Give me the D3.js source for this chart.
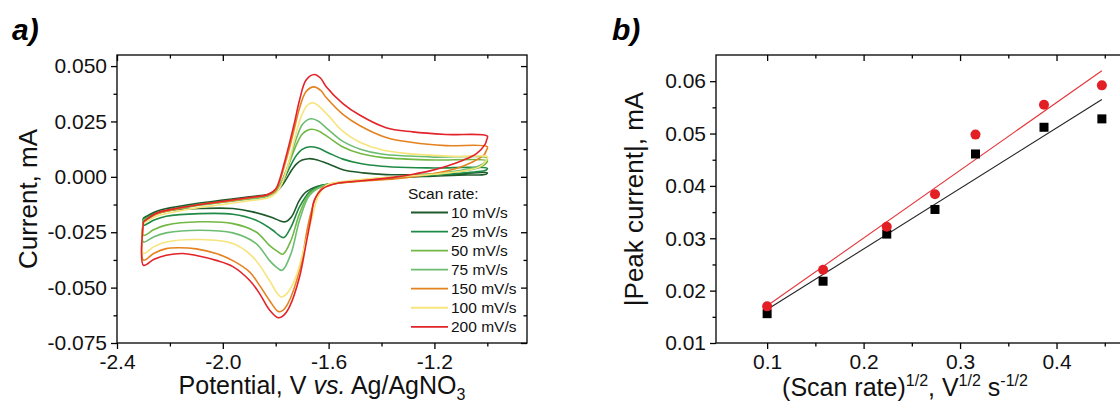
<!DOCTYPE html>
<html>
<head>
<meta charset="utf-8">
<script src="https://cdn.jsdelivr.net/npm/d3@7"></script>
<style>
  body { margin: 0; background: #fff; }
  svg { display: block; font-family: "Liberation Sans", Arial, Helvetica, sans-serif; }
</style>
</head>
<body>
<svg id="chart" width="1120" height="405"></svg>
<script>
// ---- panel a : cyclic voltammograms, [potential V, current mA]
// each loop: forward branch (left -> right) then return branch (right -> left)
const cv10 = [
  [-2.30,-0.0185],[-2.25,-0.0155],[-2.20,-0.0140],[-2.10,-0.0120],[-2.00,-0.0105],[-1.90,-0.0090],
  [-1.83,-0.0080],[-1.80,-0.0068],[-1.78,-0.0045],[-1.76,-0.0010],[-1.74,0.0030],[-1.72,0.0060],
  [-1.70,0.0076],[-1.675,0.0082],[-1.65,0.0078],[-1.60,0.0058],[-1.546,0.0032],[-1.47,0.0018],
  [-1.383,0.0010],[-1.25,0.0010],[-1.10,0.0014],[-1.00,0.0018],
  [-1.005,0.0012],[-1.08,0.0008],[-1.206,0.0003],[-1.332,-0.0003],[-1.458,-0.0015],[-1.584,-0.0030],
  [-1.647,-0.0045],[-1.685,-0.0068],[-1.710,-0.0105],[-1.740,-0.0180],[-1.764,-0.0203],[-1.785,-0.0198],
  [-1.811,-0.0185],[-1.887,-0.0158],[-1.962,-0.0143],[-2.088,-0.0143],[-2.214,-0.0154],[-2.26,-0.0170],
  [-2.30,-0.0196],[-2.30,-0.0185]
];
const cv25 = [
  [-2.30,-0.0190],[-2.25,-0.0162],[-2.20,-0.0148],[-2.10,-0.0125],[-2.00,-0.0110],[-1.90,-0.0095],
  [-1.83,-0.0083],[-1.80,-0.0065],[-1.78,-0.0035],[-1.76,0.0010],[-1.74,0.0060],[-1.72,0.0100],
  [-1.70,0.0124],[-1.67,0.0136],[-1.64,0.0130],[-1.60,0.0108],[-1.546,0.0080],[-1.48,0.0060],
  [-1.40,0.0048],[-1.30,0.0042],[-1.20,0.0040],[-1.00,0.0038],
  [-1.005,0.0030],[-1.05,0.0022],[-1.15,0.0012],[-1.30,0.0000],[-1.45,-0.0015],[-1.559,-0.0027],
  [-1.635,-0.0041],[-1.672,-0.0068],[-1.710,-0.0136],[-1.742,-0.0226],[-1.769,-0.0274],[-1.790,-0.0262],
  [-1.811,-0.0241],[-1.874,-0.0196],[-1.962,-0.0169],[-2.088,-0.0166],[-2.214,-0.0178],[-2.26,-0.0195],
  [-2.30,-0.0218],[-2.30,-0.0190]
];
const cv50 = [
  [-2.30,-0.0195],[-2.25,-0.0165],[-2.20,-0.0150],[-2.10,-0.0128],[-2.00,-0.0113],[-1.90,-0.0098],
  [-1.83,-0.0085],[-1.80,-0.0062],[-1.78,-0.0030],[-1.76,0.0025],[-1.74,0.0090],[-1.72,0.0150],
  [-1.70,0.0192],[-1.68,0.0210],[-1.664,0.0215],[-1.64,0.0208],[-1.60,0.0178],[-1.546,0.0135],
  [-1.48,0.0105],[-1.40,0.0088],[-1.30,0.0080],[-1.20,0.0076],[-1.00,0.0072],
  [-1.005,0.0060],[-1.03,0.0042],[-1.10,0.0025],[-1.20,0.0012],[-1.35,-0.0002],[-1.50,-0.0018],
  [-1.58,-0.0030],[-1.622,-0.0041],[-1.672,-0.0075],[-1.710,-0.0166],[-1.742,-0.0286],[-1.773,-0.0349],
  [-1.795,-0.0335],[-1.824,-0.0309],[-1.874,-0.0249],[-1.962,-0.0211],[-2.088,-0.0203],[-2.214,-0.0218],
  [-2.26,-0.0238],[-2.30,-0.0264],[-2.30,-0.0195]
];
const cv75 = [
  [-2.30,-0.0200],[-2.25,-0.0168],[-2.20,-0.0152],[-2.10,-0.0130],[-2.00,-0.0115],[-1.90,-0.0100],
  [-1.83,-0.0088],[-1.80,-0.0064],[-1.78,-0.0028],[-1.76,0.0030],[-1.74,0.0105],[-1.72,0.0180],
  [-1.70,0.0235],[-1.68,0.0257],[-1.664,0.0262],[-1.64,0.0252],[-1.60,0.0212],[-1.546,0.0160],
  [-1.48,0.0125],[-1.40,0.0103],[-1.30,0.0094],[-1.20,0.0089],[-1.00,0.0085],
  [-1.005,0.0070],[-1.03,0.0050],[-1.10,0.0030],[-1.20,0.0015],[-1.35,0.0000],[-1.50,-0.0018],
  [-1.58,-0.0030],[-1.622,-0.0041],[-1.672,-0.0083],[-1.710,-0.0196],[-1.742,-0.0346],[-1.776,-0.0422],
  [-1.800,-0.0405],[-1.824,-0.0377],[-1.874,-0.0301],[-1.962,-0.0253],[-2.088,-0.0241],[-2.214,-0.0253],
  [-2.26,-0.0270],[-2.30,-0.0294],[-2.30,-0.0200]
];
const cv100 = [
  [-2.30,-0.0210],[-2.25,-0.0178],[-2.20,-0.0162],[-2.10,-0.0140],[-2.00,-0.0125],[-1.90,-0.0108],
  [-1.83,-0.0095],[-1.80,-0.0075],[-1.78,-0.0040],[-1.76,0.0025],[-1.74,0.0115],[-1.72,0.0210],
  [-1.70,0.0283],[-1.68,0.0323],[-1.66,0.0335],[-1.64,0.0322],[-1.60,0.0275],[-1.546,0.0205],
  [-1.48,0.0155],[-1.40,0.0122],[-1.30,0.0105],[-1.20,0.0097],[-1.10,0.0092],[-1.00,0.0090],
  [-1.005,0.0072],[-1.03,0.0045],[-1.10,0.0025],[-1.20,0.0012],[-1.35,0.0000],[-1.50,-0.0015],
  [-1.60,-0.0032],[-1.62,-0.0050],[-1.64,-0.0090],[-1.66,-0.0170],[-1.68,-0.0265],[-1.70,-0.0355],
  [-1.72,-0.0440],[-1.742,-0.0500],[-1.765,-0.0535],[-1.780,-0.0542],[-1.800,-0.0515],[-1.824,-0.0467],
  [-1.887,-0.0361],[-1.962,-0.0301],[-2.088,-0.0283],[-2.214,-0.0294],[-2.26,-0.0315],[-2.30,-0.0346],
  [-2.30,-0.0210]
];
const cv150 = [
  [-2.30,-0.0205],[-2.25,-0.0168],[-2.20,-0.0152],[-2.10,-0.0128],[-2.00,-0.0113],[-1.90,-0.0096],
  [-1.83,-0.0082],[-1.80,-0.0060],[-1.786,-0.0025],[-1.768,0.0045],[-1.748,0.0130],[-1.728,0.0225],
  [-1.710,0.0310],[-1.685,0.0385],[-1.656,0.0406],[-1.630,0.0390],[-1.609,0.0358],[-1.546,0.0282],
  [-1.483,0.0232],[-1.383,0.0178],[-1.282,0.0155],[-1.156,0.0141],[-1.00,0.0136],
  [-1.004,0.0118],[-1.012,0.0100],[-1.054,0.0068],[-1.117,0.0038],[-1.217,0.0012],[-1.343,-0.0008],
  [-1.50,-0.0022],[-1.58,-0.0032],[-1.622,-0.0048],[-1.647,-0.0090],[-1.666,-0.0160],[-1.679,-0.0226],
  [-1.710,-0.0422],[-1.754,-0.0572],[-1.776,-0.0605],[-1.790,-0.0608],[-1.824,-0.0557],[-1.861,-0.0490],
  [-1.899,-0.0429],[-1.962,-0.0378],[-2.025,-0.0346],[-2.10,-0.0325],[-2.17,-0.0320],[-2.214,-0.0324],
  [-2.26,-0.0345],[-2.30,-0.0376],[-2.30,-0.0205]
];
const cv200 = [
  [-2.30,-0.0203],[-2.25,-0.0163],[-2.20,-0.0148],[-2.10,-0.0127],[-2.00,-0.0110],[-1.90,-0.0093],
  [-1.83,-0.0080],[-1.80,-0.0055],[-1.786,-0.0015],[-1.768,0.0060],[-1.748,0.0152],[-1.728,0.0250],
  [-1.710,0.0346],[-1.685,0.0437],[-1.654,0.0462],[-1.630,0.0445],[-1.609,0.0407],[-1.546,0.0331],
  [-1.483,0.0279],[-1.383,0.0222],[-1.282,0.0203],[-1.156,0.0191],[-1.00,0.0184],
  [-1.003,0.0165],[-1.008,0.0148],[-1.041,0.0105],[-1.091,0.0075],[-1.154,0.0048],[-1.217,0.0027],
  [-1.280,0.0012],[-1.343,0.0000],[-1.406,-0.0009],[-1.50,-0.0020],[-1.559,-0.0027],[-1.622,-0.0053],
  [-1.654,-0.0105],[-1.666,-0.0181],[-1.685,-0.0301],[-1.710,-0.0452],[-1.748,-0.0587],[-1.770,-0.0625],
  [-1.790,-0.0636],[-1.824,-0.0600],[-1.861,-0.0527],[-1.899,-0.0467],[-1.962,-0.0405],[-2.025,-0.0377],
  [-2.10,-0.0355],[-2.151,-0.0346],[-2.214,-0.0354],[-2.26,-0.0372],[-2.30,-0.0399],[-2.30,-0.0203]
];

const scanRates = ['10 mV/s', '25 mV/s', '50 mV/s', '75 mV/s', '150 mV/s', '100 mV/s', '200 mV/s'];
const cvCurves  = [cv10, cv25, cv50, cv75, cv150, cv100, cv200];
const cvColors  = ['#1e5a2c', '#1f8a45', '#72b844', '#6cbd72', '#e5821f', '#f6e47c', '#e2232a'];

const xTicksA = [-2.4, -2.0, -1.6, -1.2];
const xTickLabelsA = ['-2.4', '-2.0', '-1.6', '-1.2'];
const xMinorA = [-2.2, -1.8, -1.4, -1.0];
const yTicksA = [-0.075, -0.05, -0.025, 0, 0.025, 0.05];
const yTickLabelsA = ['-0.075', '-0.050', '-0.025', '0.000', '0.025', '0.050'];
const yMinorA = [-0.0625, -0.0375, -0.0125, 0.0125, 0.0375];

// ---- panel b : peak current vs sqrt(scan rate)
const sqrtRate  = [0.100, 0.158, 0.224, 0.274, 0.316, 0.387, 0.447];
const peakRed   = [0.0170, 0.0240, 0.0322, 0.0384, 0.0498, 0.0555, 0.0592];
const peakBlack = [0.0156, 0.0218, 0.0308, 0.0355, 0.0461, 0.0512, 0.0528];
const fitRed    = [[0.100, 0.0171], [0.447, 0.0620]];
const fitBlack  = [[0.100, 0.0164], [0.447, 0.0565]];

const xTicksB = [0.1, 0.2, 0.3, 0.4];
const xTickLabelsB = ['0.1', '0.2', '0.3', '0.4'];
const xMinorB = [0.15, 0.25, 0.35, 0.45];
const yTicksB = [0.01, 0.02, 0.03, 0.04, 0.05, 0.06];
const yTickLabelsB = ['0.01', '0.02', '0.03', '0.04', '0.05', '0.06'];
const yMinorB = [0.015, 0.025, 0.035, 0.045, 0.055];

const svg = d3.select('#chart');
const tickFont = 21, titleFont = 25;

function drawFrame(box, x, y, xt, xl, xm, yt, yl, ym) {
  let g = svg.append('g');
  g.append('rect')
    .attr('x', box.left).attr('y', box.top)
    .attr('width', box.right - box.left).attr('height', box.bottom - box.top)
    .attr('fill', 'none').attr('stroke', '#000').attr('stroke-width', 1.3);

  const axes = [
    [d3.axisBottom(x).tickValues(xt).tickSize(6).tickPadding(5).tickFormat((d, i) => xl[i]), `translate(0,${box.bottom})`],
    [d3.axisBottom(x).tickValues(xm).tickSize(3.5).tickFormat(''), `translate(0,${box.bottom})`],
    [d3.axisLeft(y).tickValues(yt).tickSize(6).tickPadding(4).tickFormat((d, i) => yl[i]), `translate(${box.left},0)`],
    [d3.axisLeft(y).tickValues(ym).tickSize(3.5).tickFormat(''), `translate(${box.left},0)`],
    // mirrored ticks point inward
    [d3.axisBottom(x).tickValues(xt).tickSize(6).tickFormat(''), `translate(0,${box.top})`],
    [d3.axisBottom(x).tickValues(xm).tickSize(3.5).tickFormat(''), `translate(0,${box.top})`],
    [d3.axisLeft(y).tickValues(yt).tickSize(6).tickFormat(''), `translate(${box.right},0)`],
    [d3.axisLeft(y).tickValues(ym).tickSize(3.5).tickFormat(''), `translate(${box.right},0)`]
  ];
  axes.forEach(([ax, tr], i) => {
    let a = g.append('g').attr('transform', tr).call(ax);
    a.select('.domain').remove();
    a.selectAll('line').attr('stroke', '#000').attr('stroke-width', 1.3);
    a.selectAll('text').attr('fill', '#111').style('font-size', tickFont + 'px')
      .style('font-family', '"Liberation Sans", Arial, sans-serif');
    if (i == 4 || i == 5) a.selectAll('line').attr('y2', i == 4 ? 6 : 3.5);
    if (i == 6 || i == 7) a.selectAll('line').attr('x2', i == 6 ? -6 : -3.5);
  });
  return g;
}

// ================= panel a
const boxA = {left: 117, right: 527, top: 55, bottom: 343};
const xA = d3.scaleLinear().domain([-2.4, -0.85]).range([boxA.left, boxA.right]);
const yA = d3.scaleLinear().domain([-0.075, 0.055]).range([boxA.bottom, boxA.top]);

const cvLine = d3.line()
  .x(d => xA(d[0])).y(d => yA(d[1]))
  .curve(d3.curveCatmullRom.alpha(0.5));

svg.append('g').selectAll('path.cv')
  .data(cvCurves)
  .enter()
  .append('path')
  .attr('class', 'cv')
  .attr('d', d => cvLine(d))
  .attr('fill', 'none')
  .attr('stroke', (d, i) => cvColors[i])
  .attr('stroke-width', 1.6)
  .attr('stroke-linejoin', 'round');

drawFrame(boxA, xA, yA, xTicksA, xTickLabelsA, xMinorA, yTicksA, yTickLabelsA, yMinorA);

// legend
let leg = svg.append('g').style('font-size', '15.5px').attr('fill', '#111');
leg.append('text').attr('x', 408).attr('y', 199).text('Scan rate:');
scanRates.forEach((s, i) => {
  let yy = 212.5 + i * 19.05;
  leg.append('line').attr('x1', 411).attr('x2', 448).attr('y1', yy).attr('y2', yy)
    .attr('stroke', cvColors[i]).attr('stroke-width', 1.8);
  leg.append('text').attr('x', 451).attr('y', yy + 5.5).text(s);
});

// titles
svg.append('text').attr('x', 12).attr('y', 40)
  .style('font-size', '30px').style('font-weight', 'bold').style('font-style', 'italic')
  .text('a)');

svg.append('text')
  .attr('transform', `translate(37,${(boxA.top + boxA.bottom) / 2}) rotate(-90)`)
  .attr('text-anchor', 'middle').style('font-size', '26px').attr('fill', '#111')
  .text('Current, mA');

let xtA = svg.append('text').attr('x', 322).attr('y', 394)
  .attr('text-anchor', 'middle').style('font-size', titleFont + 'px').attr('fill', '#111');
xtA.append('tspan').text('Potential, V ');
xtA.append('tspan').style('font-style', 'italic').text('vs.');
xtA.append('tspan').text(' Ag/AgNO');
xtA.append('tspan').attr('dy', 6).style('font-size', '16px').text('3');

// ================= panel b
const boxB = {left: 716, right: 1153, top: 55, bottom: 343};
const xB = d3.scaleLinear().domain([0.047, 0.5]).range([boxB.left, boxB.right]);
const yB = d3.scaleLinear().domain([0.01, 0.065]).range([boxB.bottom, boxB.top]);

const fitLine = d3.line().x(d => xB(d[0])).y(d => yB(d[1]));
svg.append('path').attr('d', fitLine(fitBlack)).attr('stroke', '#222').attr('stroke-width', 1.1).attr('fill', 'none');
svg.append('path').attr('d', fitLine(fitRed)).attr('stroke', '#e4343a').attr('stroke-width', 1.1).attr('fill', 'none');

svg.append('g').selectAll('rect.sq')
  .data(sqrtRate)
  .enter()
  .append('rect')
  .attr('class', 'sq')
  .attr('x', d => xB(d) - 4.5)
  .attr('y', (d, i) => yB(peakBlack[i]) - 4.5)
  .attr('width', 9).attr('height', 9)
  .attr('fill', '#000');

svg.append('g').selectAll('circle.pt')
  .data(sqrtRate)
  .enter()
  .append('circle')
  .attr('class', 'pt')
  .attr('cx', d => xB(d))
  .attr('cy', (d, i) => yB(peakRed[i]))
  .attr('r', 5)
  .attr('fill', '#e31f26');

drawFrame(boxB, xB, yB, xTicksB, xTickLabelsB, xMinorB, yTicksB, yTickLabelsB, yMinorB);

svg.append('text').attr('x', 612).attr('y', 40)
  .style('font-size', '30px').style('font-weight', 'bold').style('font-style', 'italic')
  .text('b)');

svg.append('text')
  .attr('transform', `translate(643,${(boxB.top + boxB.bottom) / 2}) rotate(-90)`)
  .attr('text-anchor', 'middle').style('font-size', '26px').attr('fill', '#111')
  .text('|Peak current|, mA');

let xtB = svg.append('text').attr('x', 905).attr('y', 396)
  .attr('text-anchor', 'middle').style('font-size', titleFont + 'px').attr('fill', '#111');
xtB.append('tspan').text('(Scan rate)');
xtB.append('tspan').attr('dy', -10).style('font-size', '16px').text('1/2');
xtB.append('tspan').attr('dy', 10).text(', V');
xtB.append('tspan').attr('dy', -10).style('font-size', '16px').text('1/2');
xtB.append('tspan').attr('dy', 10).text(' s');
xtB.append('tspan').attr('dy', -10).style('font-size', '16px').text('-1/2');
</script>
</body>
</html>
